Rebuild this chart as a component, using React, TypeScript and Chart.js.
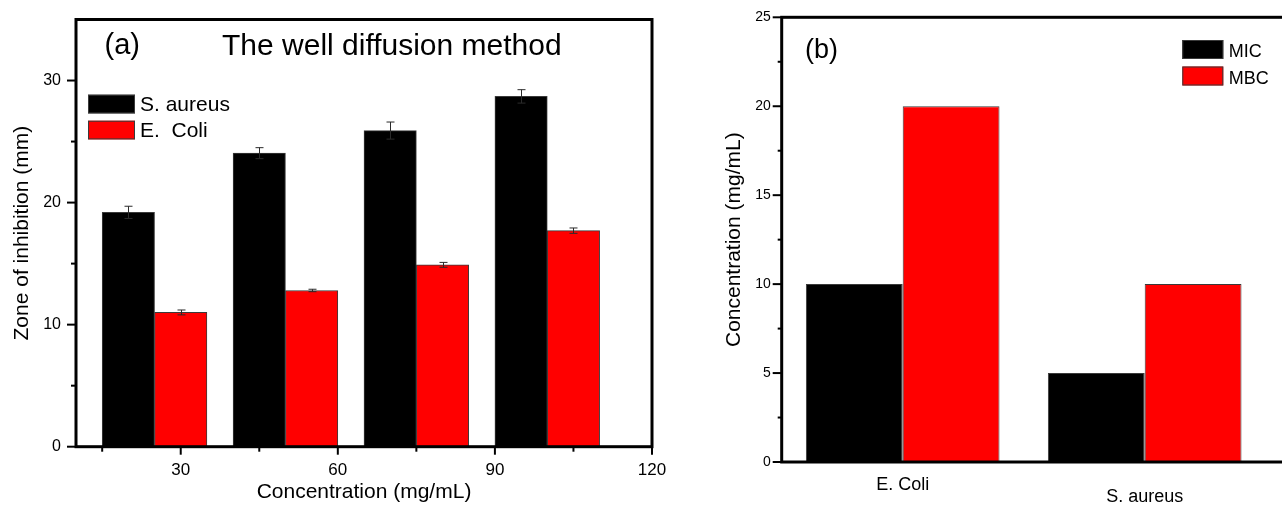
import React, { useEffect, useRef } from 'react';
import { Chart, registerables } from 'chart.js';

Chart.register(...registerables);

const FONT = "'Liberation Sans', Arial, Helvetica, sans-serif";

// ---------- Panel (a) data ----------
const panelALabel = '(a)';
const panelATitle = 'The well diffusion method';
const seriesNamesA = ['S. aureus', 'E.  Coli'];
const saureusX = [20, 45, 70, 95];
const saureusZone = [19.2, 24.05, 25.9, 28.7];
const saureusErr = [0.5, 0.45, 0.7, 0.55];
const ecoliX = [30, 55, 80, 105];
const ecoliZone = [11.0, 12.8, 14.9, 17.7];
const ecoliErr = [0.2, 0.1, 0.2, 0.22];
const xMajorTicksA = [30, 60, 90, 120];
const xMinorTicksA = [15, 45, 75, 105];
const yMajorTicksA = [0, 10, 20, 30];
const yMinorTicksA = [5, 15, 25];
const xTitleA = 'Concentration (mg/mL)';
const yTitleA = 'Zone of inhibition (mm)';

// ---------- Panel (b) data ----------
const panelBLabel = '(b)';
const categoriesB = ['E. Coli', 'S. aureus', ''];
const seriesNamesB = ['MIC', 'MBC'];
const micValues = [10, 5];
const mbcValues = [20, 10];
const yMajorTicksB = [0, 5, 10, 15, 20, 25];
const yMinorTicksB = [2.5, 7.5, 12.5, 17.5, 22.5];
const yTitleB = 'Concentration (mg/mL)';

const BLACK = '#000000';
const RED = '#ff0000';
const EDGE = '#3a3a3a';

type TickCfg = {
  frameWidth: number;
  tickWidth: number;
  yMajor: number[];
  yMinor: number[];
  yMajorLen: number;
  yMinorLen: number;
  xMajor?: number[];
  xMinor?: number[];
  xMajorLen?: number;
  xMinorLen?: number;
};

function makeFramePlugin(cfg: TickCfg) {
  return {
    id: 'frameTicks',
    afterDraw(chart: any) {
      const { ctx, chartArea: a } = chart;
      const ys = chart.scales.y;
      const xs = chart.scales.x;
      ctx.save();
      ctx.strokeStyle = '#000';
      ctx.lineWidth = cfg.tickWidth;
      ctx.lineCap = 'butt';
      const seg = (x1: number, y1: number, x2: number, y2: number) => {
        ctx.beginPath();
        ctx.moveTo(x1, y1);
        ctx.lineTo(x2, y2);
        ctx.stroke();
      };
      cfg.yMajor.forEach((v) => {
        const p = ys.getPixelForValue(v);
        seg(a.left - cfg.yMajorLen, p, a.left, p);
      });
      cfg.yMinor.forEach((v) => {
        const p = ys.getPixelForValue(v);
        seg(a.left - cfg.yMinorLen, p, a.left, p);
      });
      (cfg.xMajor || []).forEach((v) => {
        const p = xs.getPixelForValue(v);
        seg(p, a.bottom, p, a.bottom + (cfg.xMajorLen || 0));
      });
      (cfg.xMinor || []).forEach((v) => {
        const p = xs.getPixelForValue(v);
        seg(p, a.bottom, p, a.bottom + (cfg.xMinorLen || 0));
      });
      ctx.lineWidth = cfg.frameWidth;
      ctx.strokeRect(a.left, a.top, a.right - a.left, a.bottom - a.top);
      ctx.restore();
    },
  };
}

type LegendCfg = {
  dx: number;
  dy: number;
  boxW: number;
  boxH: number;
  rowStep: number;
  textGap: number;
  baselineOffset: number;
  fontSize: number;
};

function makeLegendPlugin(cfg: LegendCfg) {
  return {
    id: 'innerLegend',
    afterDraw(chart: any) {
      const { ctx, chartArea: a } = chart;
      ctx.save();
      ctx.font = `${cfg.fontSize}px ${FONT}`;
      ctx.textBaseline = 'alphabetic';
      ctx.textAlign = 'left';
      chart.data.datasets.forEach((ds: any, i: number) => {
        const x = a.left + cfg.dx;
        const y = a.top + cfg.dy + i * cfg.rowStep;
        ctx.fillStyle = ds.backgroundColor;
        ctx.fillRect(x, y, cfg.boxW, cfg.boxH);
        ctx.strokeStyle = EDGE;
        ctx.lineWidth = 1;
        ctx.strokeRect(x + 0.5, y + 0.5, cfg.boxW - 1, cfg.boxH - 1);
        ctx.fillStyle = '#000';
        ctx.fillText(ds.label, x + cfg.boxW + cfg.textGap, y + cfg.baselineOffset);
      });
      ctx.restore();
    },
  };
}

type TextItem = { text: string; dx: number; dy: number; size: number };

function makeTextPlugin(items: TextItem[]) {
  return {
    id: 'innerText',
    afterDraw(chart: any) {
      const { ctx, chartArea: a } = chart;
      ctx.save();
      ctx.fillStyle = '#000';
      ctx.textBaseline = 'alphabetic';
      ctx.textAlign = 'left';
      items.forEach((it) => {
        ctx.font = `${it.size}px ${FONT}`;
        ctx.fillText(it.text, a.left + it.dx, a.top + it.dy);
      });
      ctx.restore();
    },
  };
}

const errorBarPlugin = {
  id: 'errorBars',
  afterDatasetsDraw(chart: any) {
    const { ctx } = chart;
    const ys = chart.scales.y;
    const errs = [saureusErr, ecoliErr];
    ctx.save();
    ctx.strokeStyle = '#2a2a2a';
    ctx.lineWidth = 1;
    chart.data.datasets.forEach((ds: any, i: number) => {
      const meta = chart.getDatasetMeta(i);
      meta.data.forEach((el: any, j: number) => {
        const v = ds.data[j].y;
        const e = errs[i][j];
        const yT = ys.getPixelForValue(v + e);
        const yB = ys.getPixelForValue(v - e);
        const x = Math.round(el.x) + 0.5;
        ctx.beginPath();
        ctx.moveTo(x, yT);
        ctx.lineTo(x, yB);
        ctx.moveTo(x - 4, yT);
        ctx.lineTo(x + 4, yT);
        ctx.moveTo(x - 4, yB);
        ctx.lineTo(x + 4, yB);
        ctx.stroke();
      });
    });
    ctx.restore();
  },
};

const noScalePadding = (s: any) => {
  s.paddingTop = 0;
  s.paddingBottom = 0;
  s.paddingLeft = 0;
  s.paddingRight = 0;
};

export default function App() {
  const refA = useRef<HTMLCanvasElement | null>(null);
  const refB = useRef<HTMLCanvasElement | null>(null);

  useEffect(() => {
    if (!refA.current || !refB.current) return;

    const chartA = new Chart(refA.current, {
      type: 'bar',
      data: {
        datasets: [
          {
            label: seriesNamesA[0],
            data: saureusX.map((x, i) => ({ x, y: saureusZone[i] })),
            backgroundColor: BLACK,
            borderColor: EDGE,
            borderWidth: 1,
          },
          {
            label: seriesNamesA[1],
            data: ecoliX.map((x, i) => ({ x, y: ecoliZone[i] })),
            backgroundColor: RED,
            borderColor: EDGE,
            borderWidth: 1,
          },
        ],
      },
      options: {
        animation: false,
        responsive: false,
        events: [],
        layout: { padding: { left: 0, top: 19.5, right: 28, bottom: 0 } },
        datasets: {
          bar: { grouped: false, barPercentage: 1, categoryPercentage: 1 },
        },
        plugins: {
          legend: { display: false },
          tooltip: { enabled: false },
        },
        scales: {
          x: {
            type: 'linear',
            min: 10,
            max: 120,
            offset: false,
            grid: { display: false, drawTicks: false, offset: false },
            border: { display: false },
            afterBuildTicks: (s: any) => {
              s.ticks = xMajorTicksA.map((v) => ({ value: v }));
            },
            afterFit: (s: any) => {
              s.height = 505 - 446.7;
              noScalePadding(s);
            },
            ticks: {
              padding: 13,
              color: '#000',
              font: { family: FONT, size: 17 },
              maxRotation: 0,
              autoSkip: false,
            },
            title: {
              display: true,
              text: xTitleA,
              color: '#000',
              font: { family: FONT, size: 21 },
              padding: { top: 0, bottom: 0 },
            },
          },
          y: {
            type: 'linear',
            min: 0,
            max: 35,
            grid: { display: false, drawTicks: false },
            border: { display: false },
            afterBuildTicks: (s: any) => {
              s.ticks = yMajorTicksA.map((v) => ({ value: v }));
            },
            afterFit: (s: any) => {
              s.width = 76;
              noScalePadding(s);
            },
            ticks: {
              padding: 15,
              color: '#000',
              font: { family: FONT, size: 16 },
            },
            title: {
              display: true,
              text: yTitleA,
              color: '#000',
              font: { family: FONT, size: 21 },
              padding: { top: 9.9, bottom: 0 },
            },
          },
        },
      } as any,
      plugins: [
        errorBarPlugin,
        makeFramePlugin({
          frameWidth: 3,
          tickWidth: 2,
          yMajor: yMajorTicksA,
          yMinor: yMinorTicksA,
          yMajorLen: 9,
          yMinorLen: 5,
          xMajor: xMajorTicksA,
          xMinor: xMinorTicksA,
          xMajorLen: 8,
          xMinorLen: 5,
        }),
        makeLegendPlugin({
          dx: 12,
          dy: 75.2,
          boxW: 47,
          boxH: 18.7,
          rowStep: 26,
          textGap: 5,
          baselineOffset: 16.5,
          fontSize: 21,
        }),
        makeTextPlugin([
          { text: panelALabel, dx: 28.5, dy: 34, size: 29 },
          { text: panelATitle, dx: 146, dy: 35.5, size: 30 },
        ]),
      ],
    });

    const chartB = new Chart(refB.current, {
      type: 'bar',
      data: {
        labels: categoriesB,
        datasets: [
          {
            label: seriesNamesB[0],
            data: micValues,
            backgroundColor: BLACK,
            borderColor: EDGE,
            borderWidth: 1,
          },
          {
            label: seriesNamesB[1],
            data: mbcValues,
            backgroundColor: RED,
            borderColor: EDGE,
            borderWidth: 1,
          },
        ],
      },
      options: {
        animation: false,
        responsive: false,
        events: [],
        layout: { padding: { left: 0, top: 17.3, right: 72.3, bottom: 0 } },
        datasets: {
          bar: { barPercentage: 1, categoryPercentage: 0.8 },
        },
        plugins: {
          legend: { display: false },
          tooltip: { enabled: false },
        },
        scales: {
          x: {
            type: 'category',
            offset: true,
            grid: { display: false, drawTicks: false },
            border: { display: false },
            afterFit: (s: any) => {
              s.height = 540 - 462;
              noScalePadding(s);
            },
            ticks: {
              padding: 12.2,
              color: '#000',
              autoSkip: false,
              maxRotation: 0,
              callback: (_v: any, i: number) => (i === 1 ? ['', categoriesB[i]] : categoriesB[i]),
              font: (c: any) => ({
                family: FONT,
                size: 18,
                lineHeight: c.index === 1 ? 0.845 : 1.2,
              }),
            },
          },
          y: {
            type: 'linear',
            min: 0,
            max: 25,
            grid: { display: false, drawTicks: false },
            border: { display: false },
            afterBuildTicks: (s: any) => {
              s.ticks = yMajorTicksB.map((v) => ({ value: v }));
            },
            afterFit: (s: any) => {
              s.width = 101.7;
              noScalePadding(s);
            },
            ticks: {
              padding: 11,
              color: '#000',
              font: { family: FONT, size: 14 },
            },
            title: {
              display: true,
              text: yTitleB,
              color: '#000',
              font: { family: FONT, size: 21 },
              padding: { top: 41.4, bottom: 0 },
            },
          },
        },
      } as any,
      plugins: [
        makeFramePlugin({
          frameWidth: 3,
          tickWidth: 2,
          yMajor: yMajorTicksB,
          yMinor: yMinorTicksB,
          yMajorLen: 9,
          yMinorLen: 4,
        }),
        makeLegendPlugin({
          dx: 400.6,
          dy: 22.7,
          boxW: 41,
          boxH: 19,
          rowStep: 26.5,
          textGap: 5.5,
          baselineOffset: 17.3,
          fontSize: 18,
        }),
        makeTextPlugin([{ text: panelBLabel, dx: 23.3, dy: 41, size: 27 }]),
      ],
    });

    return () => {
      chartA.destroy();
      chartB.destroy();
    };
  }, []);

  return (
    <div
      style={{
        position: 'fixed',
        left: 0,
        top: 0,
        width: 1282,
        height: 505,
        overflow: 'hidden',
        background: '#ffffff',
      }}
    >
      <canvas
        ref={refA}
        width={680}
        height={505}
        style={{ position: 'absolute', left: 0, top: 0 }}
      />
      <canvas
        ref={refB}
        width={900}
        height={540}
        style={{ position: 'absolute', left: 680, top: 0 }}
      />
    </div>
  );
}
